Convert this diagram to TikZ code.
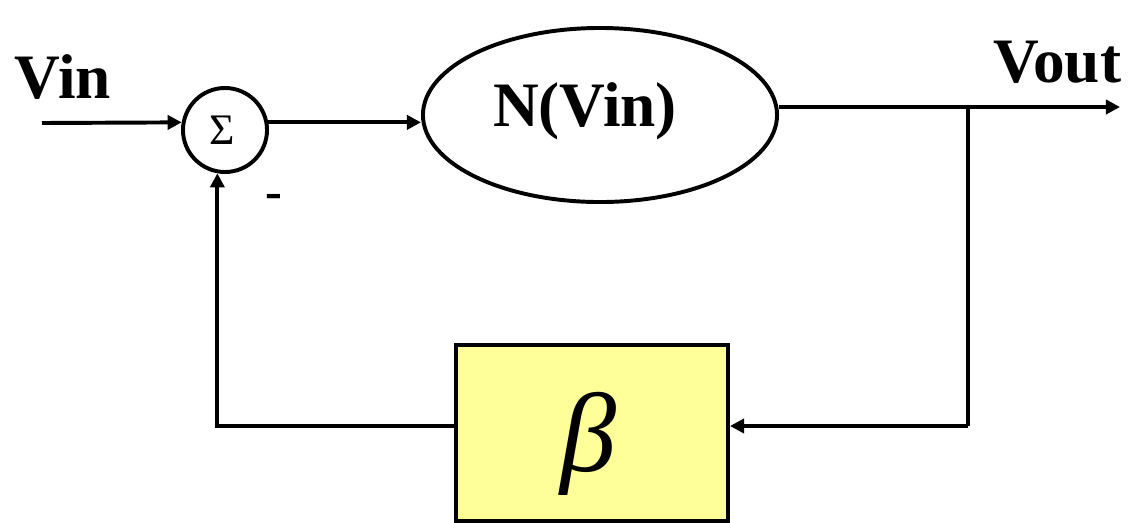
\documentclass[tikz,border=0pt]{standalone}
\usepackage{fontspec}
\setmainfont{Liberation Serif}
\usetikzlibrary{arrows.meta,positioning,shapes.geometric}
\definecolor{boxYellow}{RGB}{255,255,153}

\begin{document}
\begin{tikzpicture}[x=0.025cm,y=-0.025cm,line width=2.8pt,line cap=butt,line join=miter,
  sig/.style={-{Triangle[length=10pt,width=10pt]}},
  lbl/.style={inner sep=0pt,font=\fontsize{45}{50}\selectfont\bfseries}]
  \useasboundingbox (0,0) rectangle (1131,522);
  % blocks
  \node[circle,draw,minimum size=2.1cm,inner sep=0pt,font=\fontsize{31}{31}\selectfont] (sum) at (225,130) {\hspace*{-0.15cm}Σ};
  \node[ellipse,draw,minimum width=8.85cm,minimum height=4.35cm] (nvin) at (600,115) {};
  \node[lbl] (nvintxt) at (585,111) {N(Vin)};
  \node[draw,fill=boxYellow,minimum width=6.8cm,minimum height=4.4cm] (beta) at (592,433) {};
  \node[inner sep=0pt,font=\fontsize{80}{80}\selectfont\itshape] (betatxt) at (589,444) {β};
  % labels
  \node[lbl,anchor=base west] (vin) at (13,98) {Vin};
  \node[lbl,anchor=base east] (vout) at (1123,82) {Vout};
  \node[inner sep=0pt,font=\fontsize{36}{36}\selectfont\bfseries] (minus) at (274,201) {-};
  % points on the lines
  \coordinate (in) at (42,123);
  \coordinate (out) at (1120,107);
  \coordinate (tap) at (968,107);
  \coordinate (fbr) at (968,426);
  % connectors
  \draw[sig] (in) -- (sum.170);
  \draw[sig] (sum.10) -- (sum.10 -| nvin.west);
  \draw[sig] (nvin.east |- out) -- (out);
  \draw (tap) -- (fbr);
  \draw[sig] (fbr) -- (fbr -| beta.east);
  \draw[sig] (beta.west |- fbr) -| (sum.260);
\end{tikzpicture}
\end{document}
